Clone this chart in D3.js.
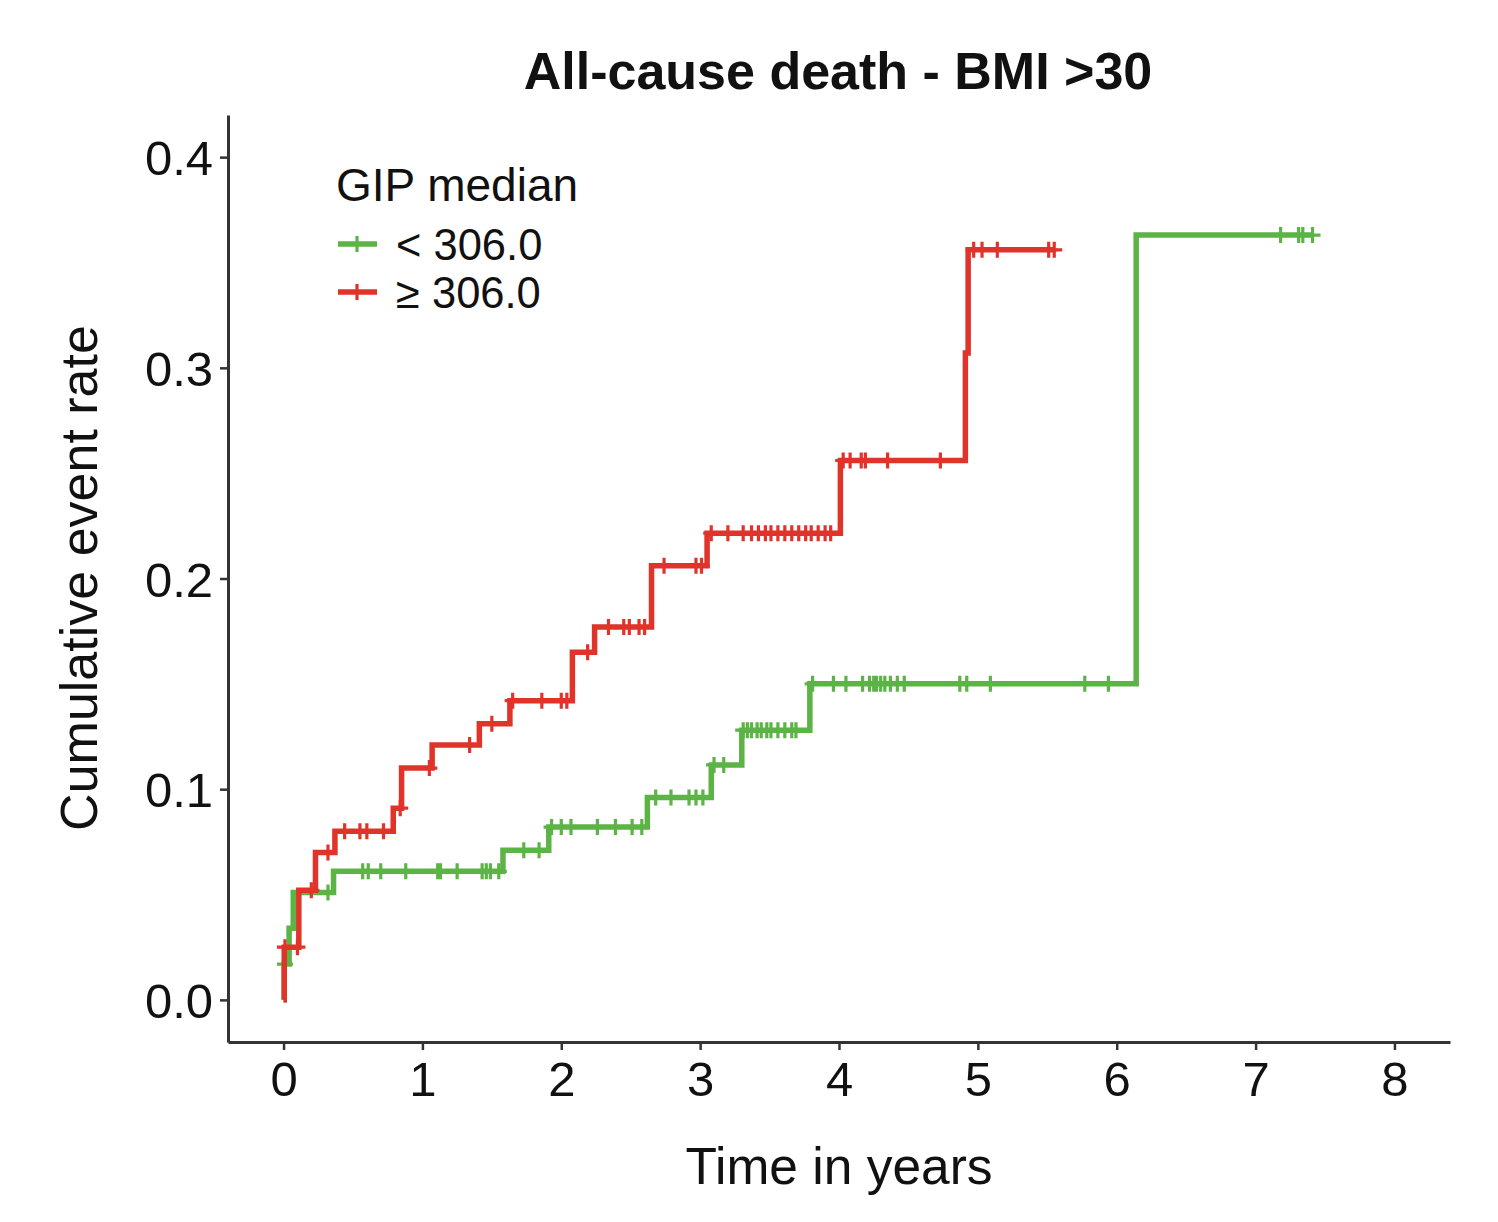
<!DOCTYPE html>
<html>
<head>
<meta charset="utf-8">
<script src="https://cdn.jsdelivr.net/npm/d3@7/dist/d3.min.js"></script>
<style>
  html, body { margin: 0; padding: 0; background: #fff; }
  svg text { font-family: "Liberation Sans", Arial, sans-serif; fill: #111; }
</style>
</head>
<body>
<svg id="chart" width="1498" height="1222"></svg>
<script>
// ---- data ----
const title = "All-cause death - BMI >30";
const xLabel = "Time in years";
const yLabel = "Cumulative event rate";
const legendTitle = "GIP median";
const groupNames = ["< 306.0", "\u2265 306.0"];
const groupColors = ["#5cb346", "#e0332a"];

const xTicks = [0, 1, 2, 3, 4, 5, 6, 7, 8];
const yTicks = [0.0, 0.1, 0.2, 0.3, 0.4];

// Low GIP (< 306.0): step times and cumulative event rate
const lowTimes = [0, 0.005, 0.04, 0.07, 0.36, 1.58, 1.91, 2.62, 3.08, 3.30, 3.79, 6.14, 7.41];
const lowRisk  = [0, 0.017, 0.034, 0.051, 0.061, 0.071, 0.082, 0.096, 0.1115, 0.128, 0.150, 0.363, 0.363];
const lowCensor = [0.01, 0.32, 0.57, 0.61, 0.70, 0.88, 1.11, 1.13, 1.25, 1.43, 1.46, 1.49, 1.55,
  1.73, 1.84, 1.93, 2.00, 2.07, 2.26, 2.39, 2.51, 2.58, 2.68, 2.79, 2.92, 2.97, 3.02,
  3.10, 3.17, 3.31, 3.34, 3.37, 3.41, 3.44, 3.48, 3.51, 3.56, 3.61, 3.66, 3.69,
  3.81, 3.96, 4.05, 4.17, 4.22, 4.25, 4.27, 4.30, 4.33, 4.37, 4.42, 4.47, 4.87, 4.92, 5.09, 5.77, 5.94,
  7.18, 7.31, 7.34, 7.41];

// High GIP (>= 306.0)
const highTimes = [0, 0.005, 0.11, 0.23, 0.37, 0.79, 0.85, 1.07, 1.41, 1.63, 2.08, 2.24, 2.65, 3.05, 4.01, 4.91, 4.93, 5.55];
const highRisk  = [0, 0.025, 0.052, 0.070, 0.080, 0.091, 0.110, 0.121, 0.131, 0.142, 0.165, 0.177, 0.206, 0.2215, 0.256, 0.307, 0.356, 0.356];
const highCensor = [0.01, 0.10, 0.20, 0.32, 0.44, 0.55, 0.60, 0.72, 0.84, 1.05, 1.34, 1.50,
  1.65, 1.86, 2.00, 2.04, 2.19, 2.34, 2.45, 2.49, 2.56, 2.60, 2.74, 2.97, 3.01,
  3.08, 3.20, 3.31, 3.37, 3.42, 3.47, 3.51, 3.56, 3.61, 3.66, 3.71, 3.76, 3.80, 3.85, 3.90, 3.94,
  4.03, 4.08, 4.16, 4.19, 4.35, 4.73, 4.97, 5.03, 5.14, 5.51, 5.55];

// ---- layout ----
const svg = d3.select("#chart");
const panel = { left: 228, right: 1450, top: 115, bottom: 1042 };

const x = d3.scaleLinear().domain([-0.4, 8.4]).range([panel.left, panel.right]);
const y = d3.scaleLinear().domain([-0.02, 0.42]).range([panel.bottom, panel.top]);

const groups = [
  { name: groupNames[0], color: groupColors[0], times: lowTimes, risk: lowRisk, censor: lowCensor },
  { name: groupNames[1], color: groupColors[1], times: highTimes, risk: highRisk, censor: highCensor }
];

function stepValue(g, t) {
  let v = g.risk[0];
  for (let i = 0; i < g.times.length; i++) {
    if (g.times[i] <= t + 1e-9) v = g.risk[i];
  }
  return v;
}

const line = d3.line()
  .x(d => x(d[0]))
  .y(d => y(d[1]))
  .curve(d3.curveStepAfter);

const plotG = svg.append("g");
groups.forEach(g => {
  const pts = g.times.map((t, i) => [t, g.risk[i]]);
  plotG.append("path")
    .attr("d", line(pts))
    .attr("fill", "none")
    .attr("stroke", g.color)
    .attr("stroke-width", 5.5)
    .attr("stroke-linejoin", "miter");
  const mk = 8;
  plotG.selectAll(null)
    .data(g.censor)
    .enter()
    .append("path")
    .attr("d", t => {
      const cx = x(t), cy = y(stepValue(g, t));
      return `M${cx - mk},${cy}H${cx + mk}M${cx},${cy - mk}V${cy + mk}`;
    })
    .attr("stroke", g.color)
    .attr("stroke-width", 3.2)
    .attr("fill", "none");
});

// ---- axes ----
const xAxis = d3.axisBottom(x).tickValues(xTicks).tickFormat(d3.format("d")).tickSize(8).tickSizeOuter(0);
const yAxis = d3.axisLeft(y).tickValues(yTicks).tickFormat(d3.format(".1f")).tickSize(8).tickSizeOuter(0);

const gx = svg.append("g").attr("transform", `translate(0,${panel.bottom})`).call(xAxis);
const gy = svg.append("g").attr("transform", `translate(${panel.left},0)`).call(yAxis);

[gx, gy].forEach(g => {
  g.select(".domain").attr("stroke", "#333").attr("stroke-width", 3);
  g.selectAll(".tick line").attr("stroke", "#333").attr("stroke-width", 2.5);
  g.selectAll(".tick text").attr("font-size", 49).attr("fill", "#111")
    .style("font-family", "'Liberation Sans', Arial, sans-serif");
});
gx.selectAll(".tick text").attr("dy", "0.71em").attr("y", 19);
gy.selectAll(".tick text").attr("x", -15).attr("dy", "0.36em");

// ---- titles ----
svg.append("text")
  .attr("x", 838).attr("y", 89)
  .attr("text-anchor", "middle")
  .attr("font-size", 52).attr("font-weight", "bold")
  .text(title);

svg.append("text")
  .attr("x", 839).attr("y", 1184)
  .attr("text-anchor", "middle")
  .attr("font-size", 51.5)
  .text(xLabel);

svg.append("text")
  .attr("transform", `translate(97,578) rotate(-90)`)
  .attr("text-anchor", "middle")
  .attr("font-size", 52)
  .text(yLabel);

// ---- legend ----
const leg = svg.append("g");
leg.append("text")
  .attr("x", 336).attr("y", 201)
  .attr("font-size", 46)
  .text(legendTitle);

groups.forEach((g, i) => {
  const cy = 244 + i * 48;
  leg.append("line")
    .attr("x1", 338).attr("x2", 377).attr("y1", cy).attr("y2", cy)
    .attr("stroke", g.color).attr("stroke-width", 5.5);
  leg.append("line")
    .attr("x1", 357).attr("x2", 357).attr("y1", cy - 8).attr("y2", cy + 8)
    .attr("stroke", g.color).attr("stroke-width", 3.2);
  leg.append("text")
    .attr("x", 396).attr("y", cy)
    .attr("dy", "0.36em")
    .attr("font-size", 43.5)
    .text(g.name);
});
</script>
</body>
</html>
